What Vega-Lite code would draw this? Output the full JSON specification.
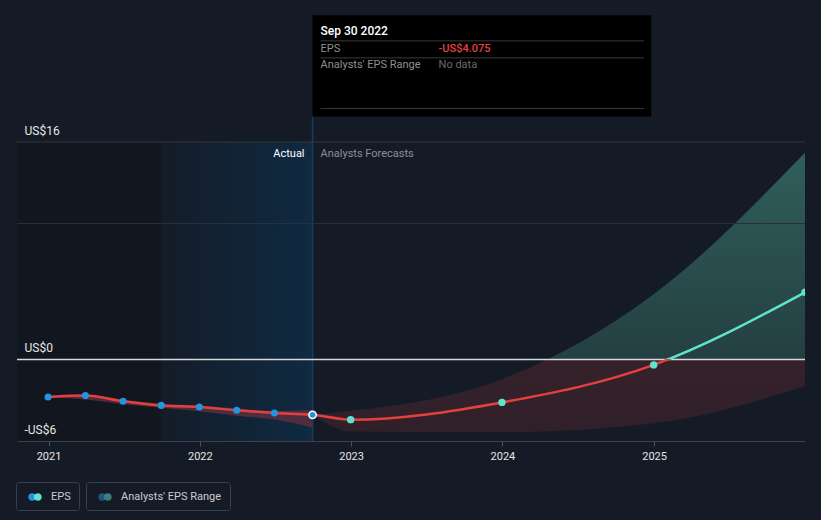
{
  "$schema": "https://vega.github.io/schema/vega-lite/v6.json",
  "width": 788,
  "height": 299,
  "autosize": {"type": "none"},
  "padding": {"left": 17, "top": 142, "right": 16, "bottom": 79},
  "background": "#151b26",
  "config": {"view": {"stroke": null}, "font": "Roboto"},
  "data": {"values": [{}]},
  "datasets": {
    "eps": [
      {"date": "2020-12-31", "eps": -2.76, "kind": "actual"},
      {"date": "2021-03-31", "eps": -2.66, "kind": "actual"},
      {"date": "2021-06-30", "eps": -3.08, "kind": "actual"},
      {"date": "2021-09-30", "eps": -3.38, "kind": "actual"},
      {"date": "2021-12-31", "eps": -3.5, "kind": "actual"},
      {"date": "2022-03-31", "eps": -3.74, "kind": "actual"},
      {"date": "2022-06-30", "eps": -3.94, "kind": "actual"},
      {"date": "2022-09-30", "eps": -4.075, "kind": "latest"},
      {"date": "2022-12-31", "eps": -4.43, "kind": "forecast"},
      {"date": "2023-12-31", "eps": -3.16, "kind": "forecast"},
      {"date": "2024-12-31", "eps": -0.4, "kind": "forecast"},
      {"date": "2025-12-31", "eps": 4.94, "kind": "forecast"}
    ],
    "hist": [
      {"date": "2020-12-31", "lo": -2.78, "hi": -2.74},
      {"date": "2021-03-31", "lo": -2.95, "hi": -2.62},
      {"date": "2021-06-30", "lo": -3.3, "hi": -2.98},
      {"date": "2021-09-30", "lo": -3.56, "hi": -3.25},
      {"date": "2021-12-31", "lo": -3.82, "hi": -3.38},
      {"date": "2022-03-31", "lo": -4.15, "hi": -3.6},
      {"date": "2022-06-30", "lo": -4.42, "hi": -3.8},
      {"date": "2022-09-30", "lo": -5.0, "hi": -3.72}
    ],
    "range": [
      {"date": "2022-09-30", "lo": -4.075, "hi": -4.075},
      {"date": "2022-12-31", "lo": -5.3, "hi": -3.8},
      {"date": "2023-12-31", "lo": -5.36, "hi": -1.45},
      {"date": "2024-12-31", "lo": -4.7, "hi": 4.8},
      {"date": "2025-12-31", "lo": -1.97, "hi": 15.2}
    ]
  },
  "layer": [
    {
      "mark": {"type": "rect", "fill": "#12161e"},
      "encoding": {
        "x": {"datum": {"year": 2020, "month": 10, "date": 17, "utc": true}, "type": "temporal", "scale": {"type": "utc", "domain": [{"year": 2020, "month": 10, "date": 17, "utc": true}, {"year": 2025, "month": 12, "date": 31, "utc": true}]}, "axis": null},
        "x2": {"datum": {"year": 2021, "month": 9, "date": 30, "utc": true}}
      }
    },
    {
      "mark": {"type": "rect", "fill": {"gradient": "linear", "x1": 0, "y1": 0, "x2": 1, "y2": 0, "stops": [{"offset": 0, "color": "#141c28"}, {"offset": 1, "color": "#0f2a42"}]}},
      "encoding": {
        "x": {"datum": {"year": 2021, "month": 9, "date": 30, "utc": true}, "type": "temporal", "scale": {"type": "utc", "domain": [{"year": 2020, "month": 10, "date": 17, "utc": true}, {"year": 2025, "month": 12, "date": 31, "utc": true}]}, "axis": null},
        "x2": {"datum": {"year": 2022, "month": 9, "date": 30, "utc": true}}
      }
    },
    {
      "mark": {"type": "rule", "color": "#1c3d5a", "strokeWidth": 1.5},
      "encoding": {
        "x": {"datum": {"year": 2022, "month": 9, "date": 30, "utc": true}, "type": "temporal", "scale": {"type": "utc", "domain": [{"year": 2020, "month": 10, "date": 17, "utc": true}, {"year": 2025, "month": 12, "date": 31, "utc": true}]}, "axis": null},
        "y": {"datum": 17.87, "type": "quantitative", "scale": {"domain": [-6, 16], "nice": false, "zero": false}, "axis": null},
        "y2": {"datum": -6}
      }
    },
    {
      "data": {"name": "hist"},
      "mark": {"type": "area", "fill": "#5a2e40", "opacity": 0.85, "interpolate": "monotone"},
      "encoding": {
        "x": {"field": "date", "type": "temporal", "scale": {"type": "utc", "domain": [{"year": 2020, "month": 10, "date": 17, "utc": true}, {"year": 2025, "month": 12, "date": 31, "utc": true}]}, "axis": null},
        "y": {"field": "hi", "type": "quantitative", "scale": {"domain": [-6, 16], "nice": false, "zero": false}, "axis": null},
        "y2": {"field": "lo"}
      }
    },
    {
      "data": {"name": "range"},
      "mark": {"type": "area", "interpolate": "monotone", "fill": {"gradient": "linear", "x1": 0, "y1": 0, "x2": 0, "y2": 1, "stops": [{"offset": 0, "color": "#305e5a"}, {"offset": 0.739, "color": "#243f42"}, {"offset": 0.739, "color": "#35212a"}, {"offset": 1, "color": "#30202a"}]}},
      "encoding": {
        "x": {"field": "date", "type": "temporal", "scale": {"type": "utc", "domain": [{"year": 2020, "month": 10, "date": 17, "utc": true}, {"year": 2025, "month": 12, "date": 31, "utc": true}]}, "axis": null},
        "y": {"field": "hi", "type": "quantitative", "scale": {"domain": [-6, 16], "nice": false, "zero": false}, "axis": null},
        "y2": {"field": "lo"}
      }
    },
    {
      "mark": {"type": "rule", "color": "#30363f", "strokeWidth": 1},
      "encoding": {"y": {"datum": 16, "type": "quantitative", "scale": {"domain": [-6, 16], "nice": false, "zero": false}, "axis": null}}
    },
    {
      "mark": {"type": "rule", "color": "#2a313b", "strokeWidth": 1},
      "encoding": {"y": {"datum": 10, "type": "quantitative", "scale": {"domain": [-6, 16], "nice": false, "zero": false}, "axis": null}}
    },
    {
      "mark": {"type": "rule", "color": "#d8d8d8", "strokeWidth": 1.5},
      "encoding": {"y": {"datum": 0, "type": "quantitative", "scale": {"domain": [-6, 16], "nice": false, "zero": false}, "axis": null}}
    },
    {
      "data": {"name": "eps"},
      "mark": {"type": "line", "interpolate": "monotone", "strokeWidth": 2.5, "stroke": {"gradient": "linear", "x1": 0, "y1": 0, "x2": 0, "y2": 1, "stops": [{"offset": 0, "color": "#5fe3cb"}, {"offset": 0.527, "color": "#5fe3cb"}, {"offset": 0.527, "color": "#e4403e"}, {"offset": 1, "color": "#e4403e"}]}},
      "encoding": {
        "x": {"field": "date", "type": "temporal", "scale": {"type": "utc", "domain": [{"year": 2020, "month": 10, "date": 17, "utc": true}, {"year": 2025, "month": 12, "date": 31, "utc": true}]},
          "axis": {"values": [{"year": 2021, "month": 1, "date": 1, "utc": true}, {"year": 2022, "month": 1, "date": 1, "utc": true}, {"year": 2023, "month": 1, "date": 1, "utc": true}, {"year": 2024, "month": 1, "date": 1, "utc": true}, {"year": 2025, "month": 1, "date": 1, "utc": true}], "format": "%Y", "title": null, "grid": false, "labelColor": "#e6e6e6", "labelFontSize": 11, "labelFont": "Roboto", "tickColor": "#4a505a", "tickSize": 5, "domainColor": "#3c424c", "labelPadding": 4, "labelFlush": false, "zindex": 1}},
        "y": {"field": "eps", "type": "quantitative", "scale": {"domain": [-6, 16], "nice": false, "zero": false},
          "axis": {"values": [-6, 0, 16], "labelExpr": "datum.value < 0 ? '-US$' + abs(datum.value) : 'US$' + datum.value", "title": null, "grid": false, "domain": false, "ticks": false, "labelAlign": "left", "labelBaseline": "alphabetic", "labelPadding": -7, "labelOffset": -8, "labelColor": "#e6e6e6", "labelFontSize": 12, "labelFont": "Roboto", "labelFlush": false, "labelOverlap": false, "zindex": 1}}
      }
    },
    {
      "data": {"name": "eps"},
      "transform": [{"filter": "datum.kind === 'actual'"}],
      "mark": {"type": "point", "filled": true, "fill": "#2394df", "size": 50, "opacity": 1, "strokeWidth": 0},
      "encoding": {
        "x": {"field": "date", "type": "temporal", "scale": {"type": "utc", "domain": [{"year": 2020, "month": 10, "date": 17, "utc": true}, {"year": 2025, "month": 12, "date": 31, "utc": true}]}, "axis": null},
        "y": {"field": "eps", "type": "quantitative", "scale": {"domain": [-6, 16], "nice": false, "zero": false}, "axis": null}
      }
    },
    {
      "data": {"name": "eps"},
      "transform": [{"filter": "datum.kind === 'latest'"}],
      "mark": {"type": "point", "filled": true, "fill": "#2394df", "stroke": "#ffffff", "strokeWidth": 1.5, "size": 55, "opacity": 1},
      "encoding": {
        "x": {"field": "date", "type": "temporal", "scale": {"type": "utc", "domain": [{"year": 2020, "month": 10, "date": 17, "utc": true}, {"year": 2025, "month": 12, "date": 31, "utc": true}]}, "axis": null},
        "y": {"field": "eps", "type": "quantitative", "scale": {"domain": [-6, 16], "nice": false, "zero": false}, "axis": null}
      }
    },
    {
      "data": {"name": "eps"},
      "transform": [{"filter": "datum.kind === 'forecast'"}],
      "mark": {"type": "point", "filled": true, "fill": "#5fe3cb", "size": 55, "opacity": 1, "strokeWidth": 0, "clip": true},
      "encoding": {
        "x": {"field": "date", "type": "temporal", "scale": {"type": "utc", "domain": [{"year": 2020, "month": 10, "date": 17, "utc": true}, {"year": 2025, "month": 12, "date": 31, "utc": true}]}, "axis": null},
        "y": {"field": "eps", "type": "quantitative", "scale": {"domain": [-6, 16], "nice": false, "zero": false}, "axis": null}
      }
    },
    {
      "mark": {"type": "text", "text": "Actual", "color": "#ffffff", "fontSize": 11, "align": "right", "baseline": "middle", "dx": -8, "dy": 12},
      "encoding": {
        "x": {"datum": {"year": 2022, "month": 9, "date": 30, "utc": true}, "type": "temporal", "scale": {"type": "utc", "domain": [{"year": 2020, "month": 10, "date": 17, "utc": true}, {"year": 2025, "month": 12, "date": 31, "utc": true}]}, "axis": null},
        "y": {"datum": 16, "type": "quantitative", "scale": {"domain": [-6, 16], "nice": false, "zero": false}, "axis": null}
      }
    },
    {
      "mark": {"type": "text", "text": "Analysts Forecasts", "color": "#8a8f98", "fontSize": 11, "align": "left", "baseline": "middle", "dx": 8, "dy": 12},
      "encoding": {
        "x": {"datum": {"year": 2022, "month": 9, "date": 30, "utc": true}, "type": "temporal", "scale": {"type": "utc", "domain": [{"year": 2020, "month": 10, "date": 17, "utc": true}, {"year": 2025, "month": 12, "date": 31, "utc": true}]}, "axis": null},
        "y": {"datum": 16, "type": "quantitative", "scale": {"domain": [-6, 16], "nice": false, "zero": false}, "axis": null}
      }
    },
    {
      "mark": {"type": "rect", "fill": "#000000"},
      "encoding": {
        "x": {"datum": {"year": 2022, "month": 9, "date": 30, "utc": true}, "type": "temporal", "scale": {"type": "utc", "domain": [{"year": 2020, "month": 10, "date": 17, "utc": true}, {"year": 2025, "month": 12, "date": 31, "utc": true}]}, "axis": null},
        "x2": {"datum": {"year": 2024, "month": 12, "date": 25, "utc": true}},
        "y": {"datum": 25.32, "type": "quantitative", "scale": {"domain": [-6, 16], "nice": false, "zero": false}, "axis": null},
        "y2": {"datum": 17.87}
      }
    },
    {
      "mark": {"type": "rule", "color": "#3a3a3a", "strokeWidth": 1},
      "encoding": {
        "x": {"datum": {"year": 2022, "month": 10, "date": 19, "utc": true}, "type": "temporal", "scale": {"type": "utc", "domain": [{"year": 2020, "month": 10, "date": 17, "utc": true}, {"year": 2025, "month": 12, "date": 31, "utc": true}]}, "axis": null},
        "x2": {"datum": {"year": 2024, "month": 12, "date": 7, "utc": true}},
        "y": {"datum": 23.44, "type": "quantitative", "scale": {"domain": [-6, 16], "nice": false, "zero": false}, "axis": null}
      }
    },
    {
      "mark": {"type": "rule", "color": "#3a3a3a", "strokeWidth": 1},
      "encoding": {
        "x": {"datum": {"year": 2022, "month": 10, "date": 19, "utc": true}, "type": "temporal", "scale": {"type": "utc", "domain": [{"year": 2020, "month": 10, "date": 17, "utc": true}, {"year": 2025, "month": 12, "date": 31, "utc": true}]}, "axis": null},
        "x2": {"datum": {"year": 2024, "month": 12, "date": 7, "utc": true}},
        "y": {"datum": 22.19, "type": "quantitative", "scale": {"domain": [-6, 16], "nice": false, "zero": false}, "axis": null}
      }
    },
    {
      "mark": {"type": "rule", "color": "#3a3a3a", "strokeWidth": 1},
      "encoding": {
        "x": {"datum": {"year": 2022, "month": 10, "date": 19, "utc": true}, "type": "temporal", "scale": {"type": "utc", "domain": [{"year": 2020, "month": 10, "date": 17, "utc": true}, {"year": 2025, "month": 12, "date": 31, "utc": true}]}, "axis": null},
        "x2": {"datum": {"year": 2024, "month": 12, "date": 7, "utc": true}},
        "y": {"datum": 18.46, "type": "quantitative", "scale": {"domain": [-6, 16], "nice": false, "zero": false}, "axis": null}
      }
    },
    {
      "mark": {"type": "text", "text": "Sep 30 2022", "color": "#ffffff", "fontSize": 12, "fontWeight": 500, "align": "left", "baseline": "middle", "dx": 8},
      "encoding": {
        "x": {"datum": {"year": 2022, "month": 9, "date": 30, "utc": true}, "type": "temporal", "scale": {"type": "utc", "domain": [{"year": 2020, "month": 10, "date": 17, "utc": true}, {"year": 2025, "month": 12, "date": 31, "utc": true}]}, "axis": null},
        "y": {"datum": 24.2, "type": "quantitative", "scale": {"domain": [-6, 16], "nice": false, "zero": false}, "axis": null}
      }
    },
    {
      "mark": {"type": "text", "text": "EPS", "color": "#8f8f8f", "fontSize": 11, "align": "left", "baseline": "middle", "dx": 8},
      "encoding": {
        "x": {"datum": {"year": 2022, "month": 9, "date": 30, "utc": true}, "type": "temporal", "scale": {"type": "utc", "domain": [{"year": 2020, "month": 10, "date": 17, "utc": true}, {"year": 2025, "month": 12, "date": 31, "utc": true}]}, "axis": null},
        "y": {"datum": 22.86, "type": "quantitative", "scale": {"domain": [-6, 16], "nice": false, "zero": false}, "axis": null}
      }
    },
    {
      "mark": {"type": "text", "text": "-US$4.075", "color": "#e8403f", "fontSize": 11, "fontWeight": 500, "align": "left", "baseline": "middle", "dx": 126},
      "encoding": {
        "x": {"datum": {"year": 2022, "month": 9, "date": 30, "utc": true}, "type": "temporal", "scale": {"type": "utc", "domain": [{"year": 2020, "month": 10, "date": 17, "utc": true}, {"year": 2025, "month": 12, "date": 31, "utc": true}]}, "axis": null},
        "y": {"datum": 22.86, "type": "quantitative", "scale": {"domain": [-6, 16], "nice": false, "zero": false}, "axis": null}
      }
    },
    {
      "mark": {"type": "text", "text": "Analysts' EPS Range", "color": "#8f8f8f", "fontSize": 11, "align": "left", "baseline": "middle", "dx": 8},
      "encoding": {
        "x": {"datum": {"year": 2022, "month": 9, "date": 30, "utc": true}, "type": "temporal", "scale": {"type": "utc", "domain": [{"year": 2020, "month": 10, "date": 17, "utc": true}, {"year": 2025, "month": 12, "date": 31, "utc": true}]}, "axis": null},
        "y": {"datum": 21.66, "type": "quantitative", "scale": {"domain": [-6, 16], "nice": false, "zero": false}, "axis": null}
      }
    },
    {
      "mark": {"type": "text", "text": "No data", "color": "#6a6a6a", "fontSize": 11, "align": "left", "baseline": "middle", "dx": 126},
      "encoding": {
        "x": {"datum": {"year": 2022, "month": 9, "date": 30, "utc": true}, "type": "temporal", "scale": {"type": "utc", "domain": [{"year": 2020, "month": 10, "date": 17, "utc": true}, {"year": 2025, "month": 12, "date": 31, "utc": true}]}, "axis": null},
        "y": {"datum": 21.66, "type": "quantitative", "scale": {"domain": [-6, 16], "nice": false, "zero": false}, "axis": null}
      }
    },
    {
      "data": {"values": [{"s": "EPS"}]},
      "mark": {"type": "point", "filled": true, "clip": true, "opacity": 1, "fill": {"gradient": "linear", "x1": 0, "y1": 0, "x2": 1, "y2": 0, "stops": [{"offset": 0, "color": "#2394df"}, {"offset": 0.46, "color": "#2394df"}, {"offset": 0.46, "color": "#5fe3cb"}, {"offset": 1, "color": "#5fe3cb"}]}},
      "encoding": {
        "x": {"datum": {"year": 2022, "month": 1, "date": 1, "utc": true}, "type": "temporal", "scale": {"type": "utc", "domain": [{"year": 2020, "month": 10, "date": 17, "utc": true}, {"year": 2025, "month": 12, "date": 31, "utc": true}]}, "axis": null},
        "y": {"datum": -100, "type": "quantitative", "scale": {"domain": [-6, 16], "nice": false, "zero": false}, "axis": null},
        "shape": {"field": "s", "type": "nominal",
          "scale": {"range": ["M-1,0a0.56,0.56 0 1,0 1.12,0a0.56,0.56 0 1,0 -1.12,0M-0.12,0a0.56,0.56 0 1,0 1.12,0a0.56,0.56 0 1,0 -1.12,0"]},
          "legend": {"orient": "none", "legendX": -1, "legendY": 340, "title": null, "padding": 8, "strokeColor": "#3b414b", "cornerRadius": 3, "labelColor": "#c9ccd1", "labelFontSize": 11, "labelFont": "Roboto", "symbolSize": 180, "symbolStrokeWidth": 0, "symbolOffset": 4, "labelOffset": 9, "labelExpr": "datum.label + '\u00a0\u00a0\u00a0'"}}
      }
    },
    {
      "data": {"values": [{"r": "Analysts' EPS Range"}]},
      "mark": {"type": "point", "filled": true, "clip": true, "opacity": 1, "fill": {"gradient": "linear", "x1": 0, "y1": 0, "x2": 1, "y2": 0, "stops": [{"offset": 0, "color": "#1f5584"}, {"offset": 0.46, "color": "#1f5584"}, {"offset": 0.46, "color": "#3b7f7b"}, {"offset": 1, "color": "#3b7f7b"}]}},
      "encoding": {
        "x": {"datum": {"year": 2022, "month": 1, "date": 1, "utc": true}, "type": "temporal", "scale": {"type": "utc", "domain": [{"year": 2020, "month": 10, "date": 17, "utc": true}, {"year": 2025, "month": 12, "date": 31, "utc": true}]}, "axis": null},
        "y": {"datum": -100, "type": "quantitative", "scale": {"domain": [-6, 16], "nice": false, "zero": false}, "axis": null},
        "shape": {"field": "r", "type": "nominal",
          "scale": {"range": ["M-1,0a0.56,0.56 0 1,0 1.12,0a0.56,0.56 0 1,0 -1.12,0M-0.12,0a0.56,0.56 0 1,0 1.12,0a0.56,0.56 0 1,0 -1.12,0"]},
          "legend": {"orient": "none", "legendX": 69, "legendY": 340, "title": null, "padding": 8, "strokeColor": "#3b414b", "cornerRadius": 3, "labelColor": "#c9ccd1", "labelFontSize": 11, "labelFont": "Roboto", "symbolSize": 180, "symbolStrokeWidth": 0, "symbolOffset": 4, "labelOffset": 9, "labelExpr": "datum.label + '\u00a0\u00a0\u00a0'"}}
      }
    }
  ],
  "resolve": {"scale": {"shape": "independent"}, "legend": {"shape": "independent"}, "axis": {"x": "independent", "y": "independent"}}
}
